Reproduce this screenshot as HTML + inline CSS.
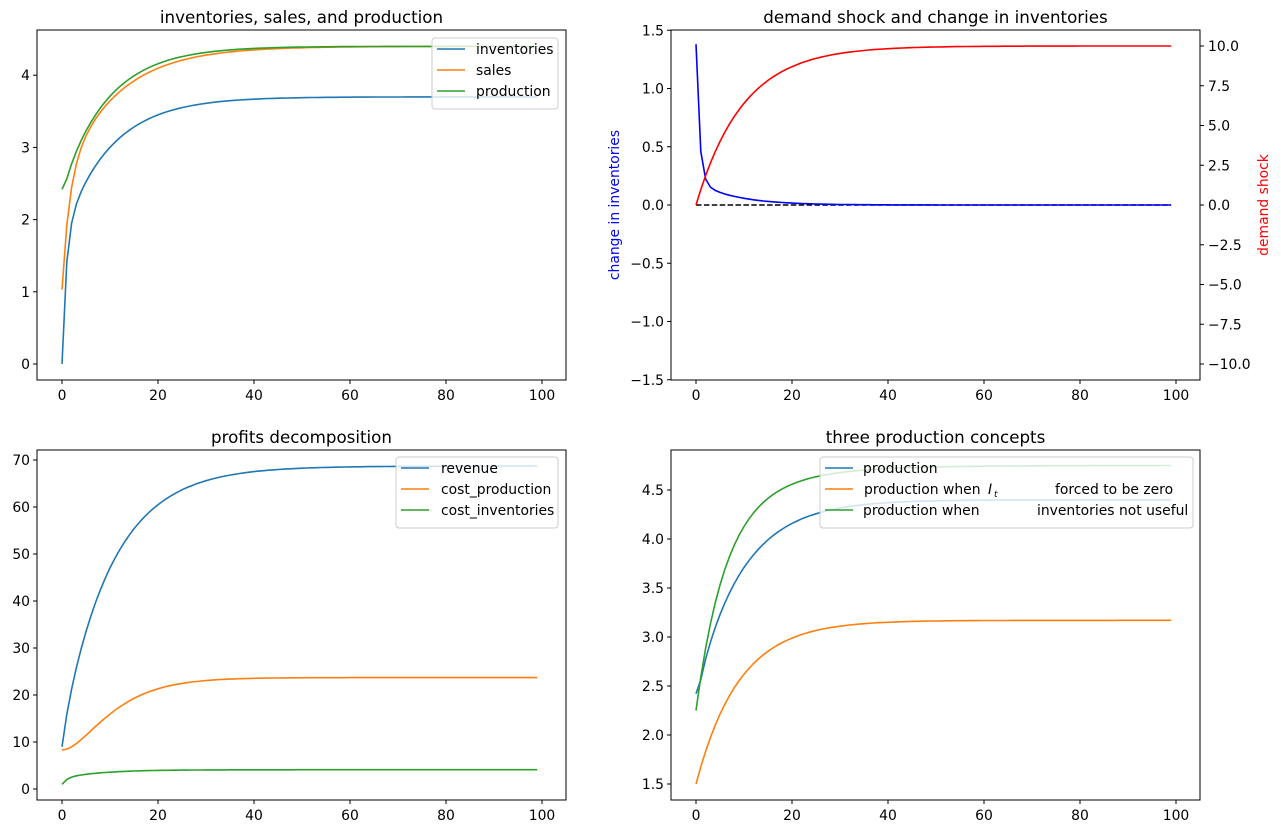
<!DOCTYPE html>
<html><head><meta charset="utf-8"><style>
body{margin:0;background:#fff}
svg text{font-family:"DejaVu Sans","Liberation Sans",sans-serif;font-size:13.9px;fill:#000}
</style></head><body>
<svg id="s" width="1281" height="834" xmlns="http://www.w3.org/2000/svg"></svg>
<script>
var S=document.getElementById('s'),h='';
function E(x){return Math.exp(x)}
function ax(o){
 h+='<rect x="'+o.l+'" y="'+o.t+'" width="'+(o.r-o.l)+'" height="'+(o.b-o.t)+'" fill="none" stroke="#000" stroke-width="1"/>';
 for(var v=0;v<=100;v+=20){var X=o.l+25+v*4.8;h+='<line x1="'+X+'" y1="'+o.b+'" x2="'+X+'" y2="'+(o.b+4)+'" stroke="#000"/><text x="'+X+'" y="'+(o.b+20)+'" text-anchor="middle">'+v+'</text>';}
 o.yt.forEach(function(v){var Y=o.Y(v);h+='<line x1="'+(o.l-4)+'" y1="'+Y+'" x2="'+o.l+'" y2="'+Y+'" stroke="#000"/><text x="'+(o.l-7)+'" y="'+(Y+5)+'" text-anchor="end">'+o.f(v)+'</text>';});
 h+='<text x="'+((o.l+o.r)/2)+'" y="'+(o.t-7)+'" text-anchor="middle" style="font-size:16.7px">'+o.title+'</text>';
}
function line(o,fn,col,Y,extra){var d='';for(var t=0;t<100;t++){d+=(t?'L':'M')+(o.l+25+t*4.8).toFixed(1)+','+Y(fn(t)).toFixed(1);}
 h+='<path d="'+d+'" fill="none" stroke="'+col+'" stroke-width="1.6" '+(extra||'')+'/>';}
function leg(x,y,w,items){h+='<rect x="'+x+'" y="'+y+'" width="'+w+'" height="'+(items.length*21+8)+'" rx="3" fill="#fff" fill-opacity="0.8" stroke="#ccc"/>';
 items.forEach(function(it,i){var Y=y+11+i*21;h+='<line x1="'+(x+5)+'" y1="'+Y+'" x2="'+(x+33)+'" y2="'+Y+'" stroke="'+it[0]+'" stroke-width="1.6"/>'+it[1].replace(/\$Y/g,Y+5);});}
var B='#1f77b4',O='#ff7f0e',G='#2ca02c';
var sales=function(t){return 4.4-1.87*E(-t/11)-1.5*E(-t/1.5)};
var prod=function(t){return t<1?2.42:4.4-1.98*E(-t/9.5)-0.12*E(-t/1.2)};
var A={l:37,r:566,t:30,b:380,title:'inventories, sales, and production',yt:[0,1,2,3,4],f:function(v){return v}};
A.Y=function(v){return 364-v*72.2};ax(A);
line(A,function(t){return 3.7-1.96*E(-t/9.7)-1.74*E(-t/0.83)},B,A.Y);
line(A,sales,O,A.Y);
line(A,prod,G,A.Y);
leg(432,38,126,[[B,'<text x="476" y="$Y">inventories</text>'],[O,'<text x="476" y="$Y">sales</text>'],[G,'<text x="476" y="$Y">production</text>']]);
var C={l:671,r:1200,t:30,b:380,title:'demand shock and change in inventories',yt:[-1.5,-1,-0.5,0,0.5,1,1.5],f:function(v){return v.toFixed(1).replace('-','−')}};
C.Y=function(v){return 205-v*116.5};ax(C);
[-10,-7.5,-5,-2.5,0,2.5,5,7.5,10].forEach(function(v){var Y=205-v*15.9;h+='<line x1="1200" y1="'+Y+'" x2="1204" y2="'+Y+'" stroke="#000"/><text x="1208" y="'+(Y+5)+'">'+v.toFixed(1).replace('-','−')+'</text>';});
h+='<line x1="696" y1="205" x2="1171" y2="205" stroke="#000" stroke-width="1.6" stroke-dasharray="5.5,2.4"/>';
line(C,function(t){return 0.2*E(-t/8)+1.18*E(-t/0.7)},'#0000ff',C.Y);
line(C,function(t){return 10*(1-E(-t/9.8))},'#ff0000',function(v){return 205-v*15.9});
h+='<text transform="translate(619,205) rotate(-90)" text-anchor="middle" style="fill:#0000ff">change in inventories</text>';
h+='<text transform="translate(1268,205) rotate(-90)" text-anchor="middle" style="fill:#ff0000">demand shock</text>';
var D={l:37,r:566,t:450,b:800,title:'profits decomposition',yt:[0,10,20,30,40,50,60,70],f:function(v){return v}};
D.Y=function(v){return 789-v*4.7};ax(D);
line(D,function(t){return 68.7-57.2*E(-t/10.3)-2.5*E(-t)},B,D.Y);
line(D,function(t){return 23.7-15.4*E(-t/6)*(1+t/6)},O,D.Y);
line(D,function(t){return 4.1-1.8*E(-t/8)-1.3*E(-t)},G,D.Y);
leg(396,457,162,[[B,'<text x="441" y="$Y">revenue</text>'],[O,'<text x="441" y="$Y">cost_production</text>'],[G,'<text x="441" y="$Y">cost_inventories</text>']]);
var F={l:671,r:1200,t:450,b:800,title:'three production concepts',yt:[1.5,2,2.5,3,3.5,4,4.5],f:function(v){return v.toFixed(1)}};
F.Y=function(v){return 784-(v-1.5)*98};ax(F);
line(F,prod,B,F.Y);
line(F,function(t){return 3.17-1.67*E(-t/9)},O,F.Y);
line(F,function(t){return 4.75-2.0*E(-t/6)-0.5*E(-t/14)},G,F.Y);
leg(820,457,373,[[B,'<text x="863" y="$Y">production</text>'],[O,'<text x="864" y="$Y">production when</text><text x="988" y="$Y" style="font-style:italic">I</text><text x="994" y="$Y" style="font-size:9px;font-style:italic" dy="3">t</text><text x="1055" y="$Y">forced to be zero</text>'],[G,'<text x="863" y="$Y">production when</text><text x="1037" y="$Y">inventories not useful</text>']]);
S.innerHTML=h;
</script>
</body></html>
